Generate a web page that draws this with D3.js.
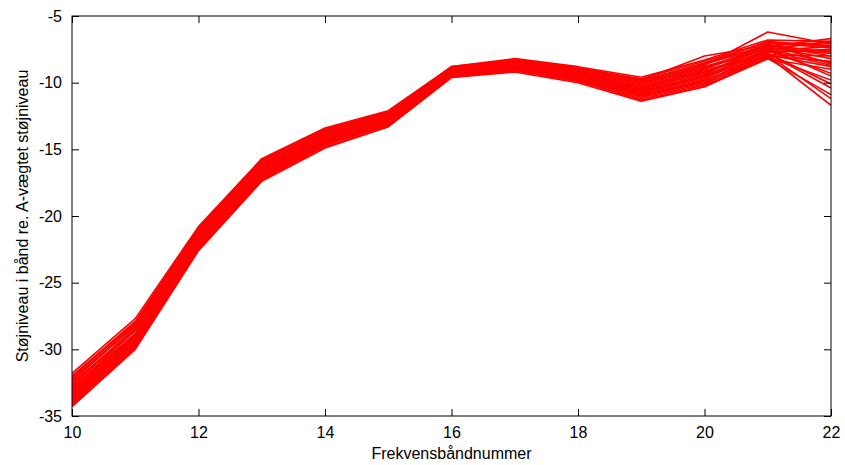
<!DOCTYPE html>
<html>
<head>
<meta charset="utf-8">
<script src="https://cdn.jsdelivr.net/npm/d3@7"></script>
<style>
  body { margin: 0; background: #fff; }
  svg { display: block; }
  text { font-family: Arial, "Liberation Sans", sans-serif; fill: #000; }
</style>
</head>
<body>
<div id="chart"></div>
<script>
// frequency band numbers (x)
const bands = [10, 11, 12, 13, 14, 15, 16, 17, 18, 19, 20, 21, 22];
const xTicks = [10, 12, 14, 16, 18, 20, 22];
const yTicks = [-35, -30, -25, -20, -15, -10, -5];

// one row per measurement, level in band re. A-weighted level (dB)
const series = [
  [-31.8, -27.7, -20.8, -15.7, -13.4, -12.1, -8.8, -8.2, -8.8, -9.6, -8.3, -6.8, -6.9],
  [-32.0, -27.9, -20.9, -15.8, -13.5, -12.2, -8.8, -8.3, -8.9, -9.7, -8.4, -7.0, -7.4],
  [-32.1, -28.0, -21.0, -15.9, -13.5, -12.2, -8.9, -8.3, -8.9, -9.8, -8.0, -7.2, -8.0],
  [-32.3, -28.1, -21.1, -16.0, -13.6, -12.3, -8.9, -8.4, -9.0, -9.9, -8.6, -7.3, -6.7],
  [-32.4, -28.2, -21.2, -16.1, -13.7, -12.3, -8.9, -8.4, -9.1, -10.0, -8.7, -6.2, -7.1],
  [-32.6, -28.4, -21.3, -16.2, -13.7, -12.4, -9.0, -8.5, -9.1, -10.1, -8.8, -7.4, -7.8],
  [-32.7, -28.5, -21.4, -16.3, -13.8, -12.5, -9.0, -8.5, -9.2, -10.2, -8.9, -7.5, -8.5],
  [-32.9, -28.6, -21.5, -16.4, -13.9, -12.5, -9.1, -8.6, -9.2, -10.3, -9.0, -7.2, -7.0],
  [-33.0, -28.8, -21.6, -16.5, -14.0, -12.6, -9.1, -8.6, -9.3, -10.3, -9.1, -7.6, -9.3],
  [-33.1, -28.9, -21.7, -16.6, -14.0, -12.7, -9.2, -8.7, -9.3, -10.4, -9.2, -7.7, -7.5],
  [-33.2, -29.0, -21.8, -16.6, -14.1, -12.7, -9.2, -8.7, -9.4, -10.5, -9.3, -7.3, -8.2],
  [-33.3, -29.1, -21.9, -16.7, -14.2, -12.8, -9.2, -8.8, -9.4, -10.6, -9.4, -7.8, -10.4],
  [-33.4, -29.2, -22.0, -16.8, -14.2, -12.8, -9.3, -8.8, -9.5, -10.6, -9.5, -7.6, -7.3],
  [-33.5, -29.3, -22.0, -16.9, -14.3, -12.9, -9.3, -8.8, -9.5, -10.7, -9.6, -7.9, -8.8],
  [-33.6, -29.4, -22.1, -16.9, -14.4, -12.9, -9.3, -8.9, -9.6, -10.8, -9.7, -7.5, -6.9],
  [-33.7, -29.4, -22.2, -17.0, -14.4, -13.0, -9.4, -8.9, -9.6, -10.9, -9.8, -8.0, -11.7],
  [-33.8, -29.5, -22.2, -17.1, -14.5, -13.0, -9.4, -8.9, -9.7, -10.9, -9.9, -7.7, -7.6],
  [-33.9, -29.6, -22.3, -17.1, -14.5, -13.1, -9.4, -9.0, -9.7, -11.0, -10.0, -8.1, -9.8],
  [-34.0, -29.7, -22.4, -17.2, -14.6, -13.1, -9.5, -9.0, -9.8, -11.1, -10.1, -7.9, -8.0],
  [-34.1, -29.8, -22.4, -17.3, -14.7, -13.2, -9.5, -9.1, -9.9, -11.2, -10.2, -8.2, -10.9],
  [-34.2, -29.9, -22.5, -17.3, -14.8, -13.3, -9.6, -9.1, -9.9, -11.3, -10.3, -8.0, -8.4],
  [-34.3, -30.0, -22.6, -17.4, -14.9, -13.3, -9.6, -9.2, -10.0, -11.4, -10.3, -8.2, -9.0],
  [-32.2, -28.3, -21.4, -16.4, -14.0, -12.6, -9.0, -8.6, -9.3, -10.4, -9.0, -7.1, -8.6],
  [-33.5, -29.0, -21.7, -16.5, -14.1, -12.6, -9.1, -8.5, -9.1, -10.0, -8.8, -7.4, -9.5],
  [-32.8, -28.9, -21.9, -16.8, -14.3, -12.9, -9.2, -8.7, -9.5, -10.8, -9.4, -7.0, -7.2],
  [-33.9, -29.3, -21.8, -16.7, -14.2, -12.8, -9.3, -8.8, -9.4, -10.5, -9.2, -7.8, -10.1],
  [-32.5, -28.6, -21.6, -16.3, -13.9, -12.4, -9.0, -8.4, -9.0, -9.9, -8.5, -7.2, -7.7],
  [-34.0, -29.8, -22.3, -17.2, -14.6, -13.2, -9.5, -9.0, -9.8, -11.0, -9.9, -7.9, -11.2],
  [-33.3, -29.5, -22.1, -17.0, -14.5, -13.0, -9.4, -8.9, -9.6, -10.7, -9.6, -7.6, -8.7],
  [-32.0, -28.0, -21.2, -16.1, -13.6, -12.3, -8.9, -8.3, -8.9, -9.8, -8.6, -6.9, -7.3]
];

const width = 845, height = 465;
const margin = { top: 16, right: 14, bottom: 49, left: 72 };
const innerW = width - margin.left - margin.right;
const innerH = height - margin.top - margin.bottom;
const tickLen = 7;

const svg = d3.select("#chart").append("svg")
  .attr("width", width)
  .attr("height", height);

const g = svg.append("g")
  .attr("transform", `translate(${margin.left},${margin.top})`);

const x = d3.scaleLinear().domain([10, 22]).range([0, innerW]);
const y = d3.scaleLinear().domain([-35, -5]).range([innerH, 0]);

g.append("clipPath").attr("id", "clip")
  .append("rect").attr("width", innerW).attr("height", innerH);

const line = d3.line()
  .x((d, i) => x(bands[i]))
  .y(d => y(d));

g.append("g")
  .attr("clip-path", "url(#clip)")
  .selectAll("path")
  .data(series)
  .join("path")
  .attr("d", line)
  .attr("fill", "none")
  .attr("stroke", "#ff0000")
  .attr("stroke-width", 1.6)
  .attr("stroke-linejoin", "round");

// MATLAB-style box with inward ticks on all sides
const fontSize = "16px";
g.append("g")
  .attr("transform", `translate(0,${innerH})`)
  .call(d3.axisBottom(x).tickValues(xTicks).tickSizeInner(-tickLen).tickSizeOuter(0).tickPadding(11))
  .call(a => a.select(".domain").remove())
  .call(a => a.selectAll("text").style("font-size", fontSize));

g.append("g")
  .call(d3.axisTop(x).tickValues(xTicks).tickSizeInner(-tickLen).tickSizeOuter(0).tickFormat(""))
  .call(a => a.select(".domain").remove());

g.append("g")
  .call(d3.axisLeft(y).tickValues(yTicks).tickSizeInner(-tickLen).tickSizeOuter(0).tickPadding(10)
    .tickFormat(d3.format("d")))
  .call(a => a.select(".domain").remove())
  .call(a => a.selectAll("text").style("font-size", fontSize));

g.append("g")
  .attr("transform", `translate(${innerW},0)`)
  .call(d3.axisRight(y).tickValues(yTicks).tickSizeInner(-tickLen).tickSizeOuter(0).tickFormat(""))
  .call(a => a.select(".domain").remove());

svg.selectAll(".tick text").text(function() { return this.textContent.replace("\u2212", "-"); });

g.append("rect")
  .attr("width", innerW)
  .attr("height", innerH)
  .attr("fill", "none")
  .attr("stroke", "#000")
  .attr("stroke-width", 1);

svg.append("text")
  .attr("x", margin.left + innerW / 2)
  .attr("y", 459)
  .attr("text-anchor", "middle")
  .style("font-size", fontSize)
  .text("Frekvensbåndnummer");

svg.append("text")
  .attr("transform", `translate(28,${margin.top + innerH / 2}) rotate(-90)`)
  .attr("text-anchor", "middle")
  .style("font-size", fontSize)
  .text("Støjniveau i bånd re. A-vægtet støjniveau");
</script>
</body>
</html>
